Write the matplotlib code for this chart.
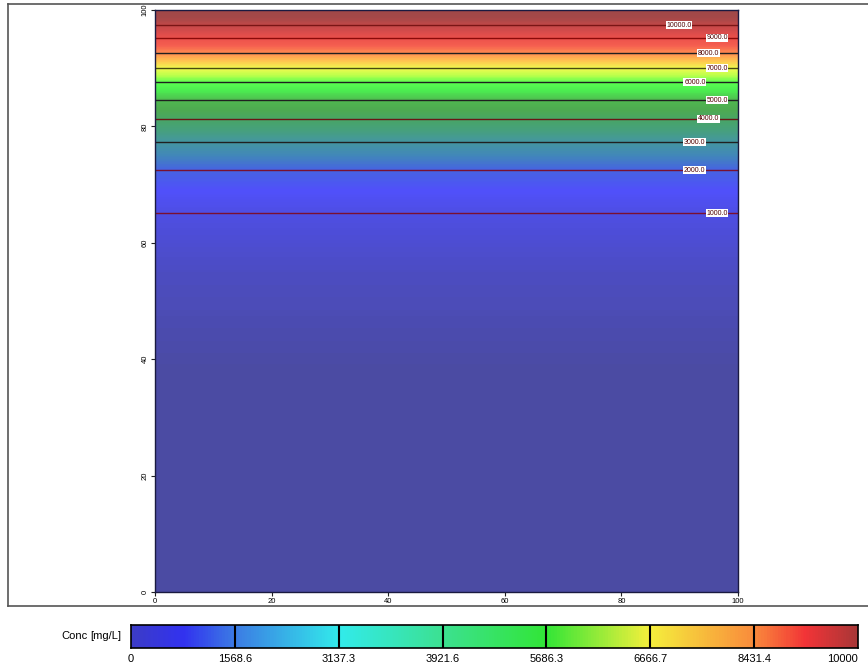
import numpy as np
import matplotlib
matplotlib.use('Agg')
import matplotlib.pyplot as plt
from matplotlib.colors import LinearSegmentedColormap, Normalize
from matplotlib.lines import Line2D

# ---- data ----
depth = [0, 40, 55, 65.1, 72.5, 77.3, 81.3, 84.5, 87.6, 90.0, 92.6, 95.2, 97.4, 100]
conc = [0, 50, 400, 1000, 2000, 3000, 4000, 5000, 6000, 7000, 8000, 9000, 10000, 11000]
x_ext = [0, 100]

contour_levels = [1000, 2000, 3000, 4000, 5000, 6000, 7000, 8000, 9000, 10000]
label_x = [96.4, 92.6, 92.6, 94.9, 96.4, 92.6, 96.4, 94.9, 96.4, 89.9]
line_colors = ['#7a1030', '#7a1030', '#202020', '#6a1515', '#202020',
               '#202020', '#4a4a10', '#202020', '#8b0a0a', '#7a1515']

field_vals = [0, 400, 1000, 1500, 2000, 2500, 3000, 3500, 4000, 4500, 5000, 5500,
              6000, 6500, 7000, 7500, 8000, 8500, 9000, 9500, 10000, 10500, 11000]
field_rgb = [(75, 75, 163), (76, 76, 195), (78, 78, 228), (80, 80, 250), (70, 100, 225),
             (65, 135, 185), (68, 150, 160), (70, 160, 125), (72, 165, 100), (78, 170, 80),
             (80, 185, 80), (75, 235, 80), (90, 255, 80), (190, 255, 75), (240, 250, 80),
             (255, 195, 80), (255, 140, 80), (245, 95, 80), (235, 80, 75), (215, 75, 75),
             (195, 72, 72), (165, 72, 72), (160, 72, 72)]

cbar_bounds = [0, 1568.6, 3137.3, 3921.6, 5686.3, 6666.7, 8431.4, 10000]
cbar_labels = ['0', '1568.6', '3137.3', '3921.6', '5686.3', '6666.7', '8431.4', '10000']
cbar_pos = [0, 0.07, 1/7, 2/7, 3/7, 4/7, 5/7, 6/7, 0.93, 1.0]
cbar_rgb = [(60, 60, 200), (50, 50, 240), (60, 125, 228), (50, 235, 235), (60, 225, 145),
            (50, 230, 55), (245, 240, 60), (250, 140, 60), (242, 52, 55), (170, 55, 55)]

xticks = [0, 20, 40, 60, 80, 100]
yticks = [0, 20, 40, 60, 80, 100]

plt.rcParams['font.family'] = ['Liberation Sans Narrow', 'Liberation Sans', 'DejaVu Sans']

W, H = 868, 671
fig = plt.figure(figsize=(W / 100, H / 100), dpi=100)
fig.patch.set_facecolor('white')

# outer frame
fc = '#555555'
fig.add_artist(Line2D([8 / W, 1.0], [1 - 4 / H, 1 - 4 / H], color=fc, lw=1.2, transform=fig.transFigure))
fig.add_artist(Line2D([8 / W, 1.0], [1 - 606 / H, 1 - 606 / H], color=fc, lw=1.2, transform=fig.transFigure))
fig.add_artist(Line2D([8 / W, 8 / W], [1 - 606 / H, 1 - 4 / H], color=fc, lw=1.2, transform=fig.transFigure))

# main axes
ax = fig.add_axes([155 / W, 1 - 592 / H, (738 - 155) / W, (592 - 10) / H])
field_cmap = LinearSegmentedColormap.from_list(
    'field', [(v / field_vals[-1], tuple(c / 255 for c in rgb)) for v, rgb in zip(field_vals, field_rgb)])
norm = Normalize(0, field_vals[-1])
Z = np.tile(np.array(conc, dtype=float)[:, None], (1, 2))
ax.contourf(x_ext, depth, Z, levels=np.linspace(-1, 11001, 441), cmap=field_cmap, norm=norm)
ax.contour(x_ext, depth, Z, levels=contour_levels, colors=line_colors, linewidths=1.0)
for lev, lx in zip(contour_levels, label_x):
    ly = np.interp(lev, conc, depth)
    ax.text(lx, ly, f'{lev:.1f}', fontsize=5, color='#500000', ha='center', va='center',
            bbox=dict(boxstyle='square,pad=0.1', fc='white', ec='none'))

ax.set_xlim(0, 100)
ax.set_ylim(0, 100)
ax.set_xticks(xticks)
ax.set_yticks(yticks)
ax.set_xticklabels([str(v) for v in xticks], fontsize=5.5)
ax.set_yticklabels([str(v) for v in yticks], fontsize=5.5, rotation=90, va='center')
ax.tick_params(length=3, width=0.8, pad=1.5, color='#222222')
for s in ax.spines.values():
    s.set_color('#1a1a40')
    s.set_linewidth(1.0)

# colorbar
cax = fig.add_axes([131 / W, 1 - 648 / H, (858 - 131) / W, (648 - 625) / H])
cbar_cmap = LinearSegmentedColormap.from_list(
    'cbar', [(p, tuple(c / 255 for c in rgb)) for p, rgb in zip(cbar_pos, cbar_rgb)])
nseg = len(cbar_bounds) - 1
grad = np.linspace(0, 1, 800)[None, :]
cax.imshow(grad, extent=[0, nseg, 0, 1], aspect='auto', cmap=cbar_cmap, origin='lower')
for i in range(1, nseg):
    cax.axvline(i, color='black', lw=1.5)
cax.set_xlim(0, nseg)
cax.set_ylim(0, 1)
cax.set_yticks([])
cax.set_xticks(range(nseg + 1))
cax.set_xticklabels(cbar_labels, fontsize=8)
cax.tick_params(axis='x', length=0, pad=4)
cax.get_xticklabels()[-1].set_ha('right')
for s in cax.spines.values():
    s.set_color('black')
    s.set_linewidth(1.2)

fig.text(75 / W, 1 - 636 / H, 'Conc', fontsize=8, ha='center', va='center')
fig.text(106 / W, 1 - 636 / H, '[mg/L]', fontsize=8, ha='center', va='center')

fig.savefig('out.png', dpi=100)
